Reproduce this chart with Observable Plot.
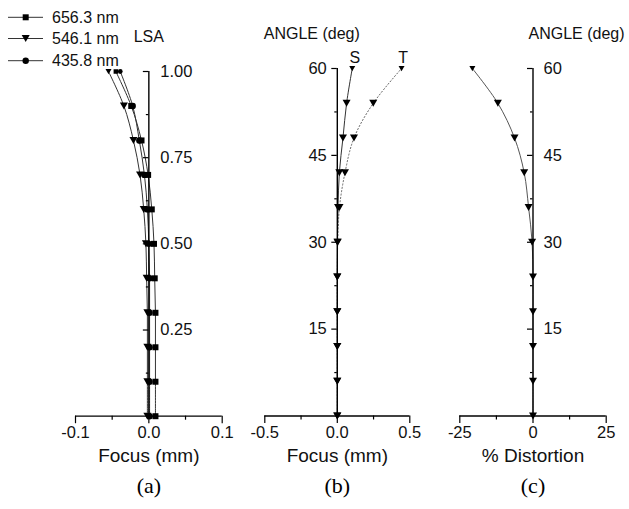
<!DOCTYPE html>
<html><head><meta charset="utf-8">
<script src="https://cdn.jsdelivr.net/npm/d3@7"></script>
<script src="https://cdn.jsdelivr.net/npm/@observablehq/plot@0.6"></script>
<style>
html,body{margin:0;padding:0;background:#fff;}
#chart{position:relative;width:629px;height:509px;overflow:hidden;font-family:"Liberation Sans",Arial,sans-serif;}
#chart > svg{position:absolute;top:0;}
</style></head><body><div id="chart"></div>
<script>
// ---- data ----
const pupilHeights = [0, 0.1, 0.2, 0.3, 0.4, 0.5, 0.6, 0.7, 0.8, 0.9, 1.0];
const lsa6563 = [0.009, 0.009, 0.009, 0.009, 0.008, 0.007, 0.004, -0.001, -0.010, -0.024, -0.045];
const lsa5461 = [-0.002, -0.002, -0.002, -0.002, -0.003, -0.004, -0.007, -0.012, -0.021, -0.034, -0.055];
const lsa4358 = [0.001, 0.001, 0.001, 0.001, 0.001, 0.000, -0.002, -0.006, -0.013, -0.022, -0.039];
const wavelengthLabels = ["656.3 nm", "546.1 nm", "435.8 nm"];

const fieldAngles = [0, 6, 12, 18, 24, 30, 36, 42, 48, 54, 60];
const sagittalFocus = [0, 0, 0, 0, 0, 0.001, 0.005, 0.014, 0.039, 0.064, 0.103];
const tangentialFocus = [0, 0, 0, 0, 0, 0.003, 0.015, 0.053, 0.115, 0.248, 0.443];
const distortionPct = [0, 0, 0, 0, 0, -0.3, -1.5, -3.0, -6.3, -12.0, -20.7];

const lsaXTicks = [-0.1, 0, 0.1];
const lsaXTickLabels = ["-0.1", "0.0", "0.1"];
const lsaXMinor = [-0.05, 0.05];
const lsaYTicks = [0.25, 0.5, 0.75, 1.0];
const lsaYTickLabels = ["0.25", "0.50", "0.75", "1.00"];
const lsaYMinor = [0.125, 0.375, 0.625, 0.875];

const focusXTicks = [-0.5, 0, 0.5];
const focusXTickLabels = ["-0.5", "0.0", "0.5"];
const focusXMinor = [-0.25, 0.25];

const angleYTicks = [15, 30, 45, 60];
const angleYTickLabels = ["15", "30", "45", "60"];
const angleYMinor = [7.5, 22.5, 37.5, 52.5];

const distXTicks = [-25, 0, 25];
const distXTickLabels = ["-25", "0", "25"];
const distXMinor = [-12.5, 12.5];

// ---- symbols ----
const symTriDown = {draw(ctx, size) {const r = Math.sqrt(size / Math.PI); const h = 0.875 * r; ctx.moveTo(-r, -h); ctx.lineTo(r, -h); ctx.lineTo(0, h); ctx.closePath();}};
const symSquare = {draw(ctx, size) {const r = Math.sqrt(size / Math.PI) * 0.75; ctx.rect(-r, -r, 2 * r, 2 * r);}};
const symCircle = {draw(ctx, size) {const r = Math.sqrt(size / Math.PI) * 0.8; ctx.moveTo(r, 0); ctx.arc(0, 0, r, 0, 2 * Math.PI);}};

const rows = (ys, xs) => ys.map((y, i) => ({x: xs[i], y}));
const FONT = "Liberation Sans, Arial, sans-serif";
const INK = "#111";

function panel(cfg) {
  const [y0, y1] = cfg.yDomain;
  const marks = [];
  for (const s of cfg.series) {
    marks.push(Plot.line(s.rows, {x: "x", y: "y", curve: "catmull-rom", stroke: s.stroke, strokeWidth: s.strokeWidth || 1, strokeDasharray: s.dash}));
  }
  marks.push(
    Plot.ruleY([y0], {stroke: "#000", strokeWidth: 1.3}),
    Plot.ruleX([0], {y1: y0, y2: y1, stroke: "#000", strokeWidth: 1.4}),
    Plot.ruleX(cfg.xMajor, {y1: y0, y2: y0, insetBottom: -7.5, stroke: "#000", strokeWidth: 1.2}),
    Plot.ruleX(cfg.xMinor, {y1: y0, y2: y0, insetBottom: -4, stroke: "#000", strokeWidth: 1.2}),
    Plot.ruleY(cfg.yMajor, {x1: 0, x2: 0, insetLeft: -5.5, stroke: "#000", strokeWidth: 1.2}),
    Plot.ruleY(cfg.yMinor, {x1: 0, x2: 0, insetLeft: -2.5, stroke: "#000", strokeWidth: 1.2}),
    Plot.text(cfg.xMajor, {x: d => d, frameAnchor: "bottom", dy: 21.5, text: (d, i) => cfg.xMajorLabels[i], fontSize: 16.5, fill: INK}),
    Plot.text(cfg.yMajor, {x: () => 0, y: d => d, dx: cfg.yLabelDx, textAnchor: cfg.yLabelAnchor, text: (d, i) => cfg.yMajorLabels[i], fontSize: 16.5, fill: INK}),
    Plot.text([cfg.xTitle], {frameAnchor: "bottom", dy: 45.5, fontSize: 19, fill: INK}),
    Plot.text([cfg.tag], {frameAnchor: "bottom", dy: 77, fontSize: 22, fontFamily: "Liberation Serif, Times New Roman, serif", fill: "#000"}),
    Plot.text([cfg.title], {x: () => 0, y: () => y1, dx: cfg.titleDx, dy: cfg.titleDy, textAnchor: cfg.titleAnchor, fontSize: 16, fill: INK})
  );
  for (const s of cfg.series) {
    marks.push(Plot.dot(s.rows, {x: "x", y: "y", symbol: s.symbol, fill: "#000", stroke: "none", r: d => d.y === y1 ? 3 : 4}));
  }
  if (cfg.extra) marks.push(...cfg.extra);
  const svg = Plot.plot({
    width: cfg.width, height: 509,
    marginLeft: cfg.mL, marginRight: cfg.mR, marginTop: cfg.mT, marginBottom: cfg.mB,
    x: {domain: cfg.xDomain, axis: null},
    y: {domain: cfg.yDomain, axis: null},
    r: {type: "identity"},
    style: {fontFamily: FONT, background: "transparent", overflow: "visible"},
    marks
  });
  svg.style.left = cfg.left + "px";
  document.getElementById("chart").appendChild(svg);
}

// (a) LSA
panel({
  left: 0, width: 240, mL: 75, mR: 18.3, mT: 71, mB: 93.3,
  xDomain: [-0.1, 0.1], yDomain: [0, 1],
  series: [
    {rows: rows(pupilHeights, lsa4358), symbol: symCircle, stroke: "#333"},
    {rows: rows(pupilHeights, lsa5461), symbol: symTriDown, stroke: "#333"},
    {rows: rows(pupilHeights, lsa6563), symbol: symSquare, stroke: "#333"}
  ],
  xMajor: lsaXTicks, xMajorLabels: lsaXTickLabels, xMinor: lsaXMinor,
  yMajor: lsaYTicks, yMajorLabels: lsaYTickLabels, yMinor: lsaYMinor,
  yLabelDx: 11.5, yLabelAnchor: "start",
  xTitle: "Focus (mm)", tag: "(a)",
  title: "LSA", titleDx: 0, titleDy: -35, titleAnchor: "middle"
});

// (b) astigmatic field curves
const sRows = rows(fieldAngles, sagittalFocus);
const tRows = rows(fieldAngles, tangentialFocus);
panel({
  left: 240, width: 195, mL: 24.3, mR: 25.7, mT: 68, mB: 93.5,
  xDomain: [-0.5, 0.5], yDomain: [0, 60],
  series: [
    {rows: tRows, symbol: symTriDown, stroke: "#666", dash: "1.2,2.2"},
    {rows: sRows, symbol: symTriDown, stroke: "#333"}
  ],
  xMajor: focusXTicks, xMajorLabels: focusXTickLabels, xMinor: focusXMinor,
  yMajor: angleYTicks, yMajorLabels: angleYTickLabels, yMinor: angleYMinor,
  yLabelDx: -10.5, yLabelAnchor: "end",
  xTitle: "Focus (mm)", tag: "(b)",
  title: "ANGLE (deg)", titleDx: -25.5, titleDy: -34.5, titleAnchor: "middle",
  extra: [
    Plot.text(sRows.slice(-1), {x: "x", y: "y", text: () => "S", dx: 2.5, dy: -11, fontSize: 16, fill: INK}),
    Plot.text(tRows.slice(-1), {x: "x", y: "y", text: () => "T", dx: 1.5, dy: -11, fontSize: 16, fill: INK})
  ]
});

// (c) distortion
panel({
  left: 435, width: 194, mL: 24.3, mR: 23.3, mT: 68, mB: 93.5,
  xDomain: [-25, 25], yDomain: [0, 60],
  series: [
    {rows: rows(fieldAngles, distortionPct), symbol: symTriDown, stroke: "#555"}
  ],
  xMajor: distXTicks, xMajorLabels: distXTickLabels, xMinor: distXMinor,
  yMajor: angleYTicks, yMajorLabels: angleYTickLabels, yMinor: angleYMinor,
  yLabelDx: 10.5, yLabelAnchor: "start",
  xTitle: "% Distortion", tag: "(c)",
  title: "ANGLE (deg)", titleDx: -4.5, titleDy: -34.5, titleAnchor: "start"
});

// legend
const legendSymbols = [symSquare, symTriDown, symCircle];
const leg = d3.select("#chart").append("svg")
  .attr("width", 130).attr("height", 72)
  .style("left", "0px").style("top", "0px");
const rowsY = [17.3, 38.5, 60.7];
wavelengthLabels.forEach((lab, i) => {
  const g = leg.append("g").attr("transform", `translate(0,${rowsY[i]})`);
  g.append("line").attr("x1", 8).attr("x2", 43).attr("y1", 0).attr("y2", 0).attr("stroke", "#333").attr("stroke-width", 1);
  g.append("path").attr("transform", "translate(25.7,0)").attr("d", d3.symbol(legendSymbols[i], 16 * Math.PI)()).attr("fill", "#000");
  g.append("text").attr("x", 52).attr("y", 0).attr("dy", "0.35em").attr("font-size", 16).attr("fill", INK).attr("font-family", FONT).text(lab);
});
</script></body></html>
